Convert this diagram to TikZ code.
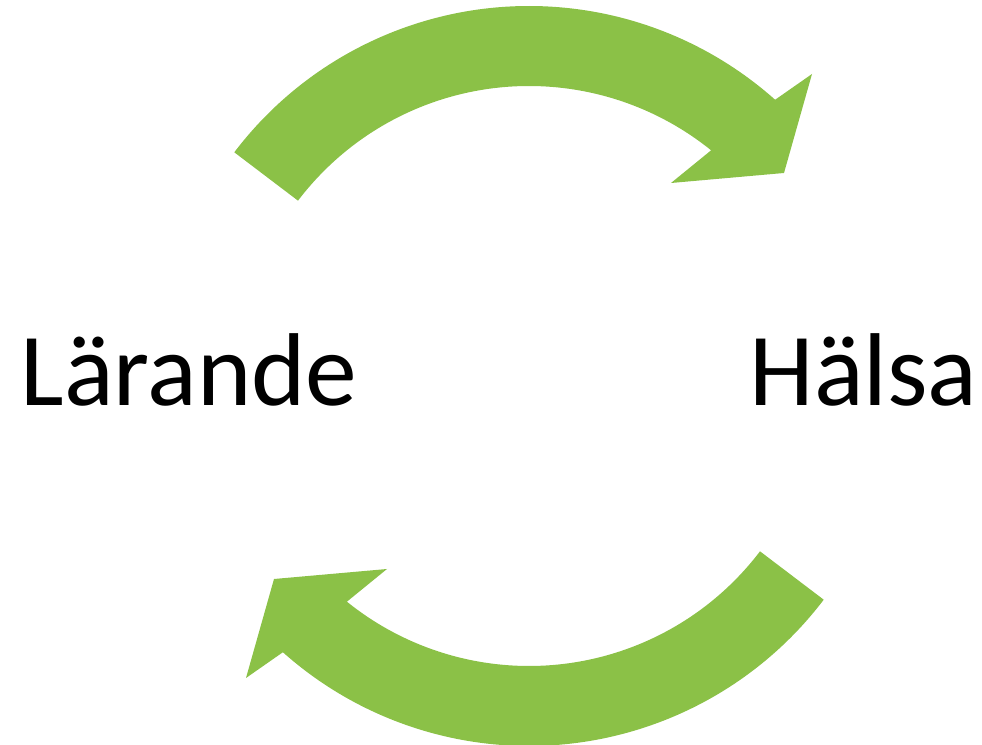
\documentclass[tikz,border=0pt]{standalone}
\usepackage{fontspec}
\setmainfont{Carlito}
\definecolor{arrowgreen}{RGB}{139,193,71}
\tikzset{
  looparrow/.style={fill=arrowgreen, draw=none},
  bigword/.style={anchor=base west, inner sep=0pt, font=\fontsize{103.5}{120}\selectfont, text=black}
}
\begin{document}
\begin{tikzpicture}[x=1pt,y=1pt]
\useasboundingbox (0,0) rectangle (982,744);
\coordinate (C) at (529,368);
% top arrow (left to right)
\fill[looparrow] ([shift={(529,368)}]142.8:370) arc[start angle=142.8, end angle=48.3, radius=370]
  -- (812,670) -- (784,571) -- (671,561)
  -- ([shift={(529,368)}]51.1:290) arc[start angle=51.1, end angle=142.8, radius=290] -- cycle;
% bottom arrow (right to left), point symmetric
\begin{scope}[rotate around={180:(C)}]
\fill[looparrow] ([shift={(529,368)}]142.8:370) arc[start angle=142.8, end angle=48.3, radius=370]
  -- (812,670) -- (784,571) -- (671,561)
  -- ([shift={(529,368)}]51.1:290) arc[start angle=51.1, end angle=142.8, radius=290] -- cycle;
\end{scope}
\node[bigword] (L) at (20.4,338) {Lärande};
\node[bigword] (H) at (749.4,338) {Hälsa};
\end{tikzpicture}
\end{document}
